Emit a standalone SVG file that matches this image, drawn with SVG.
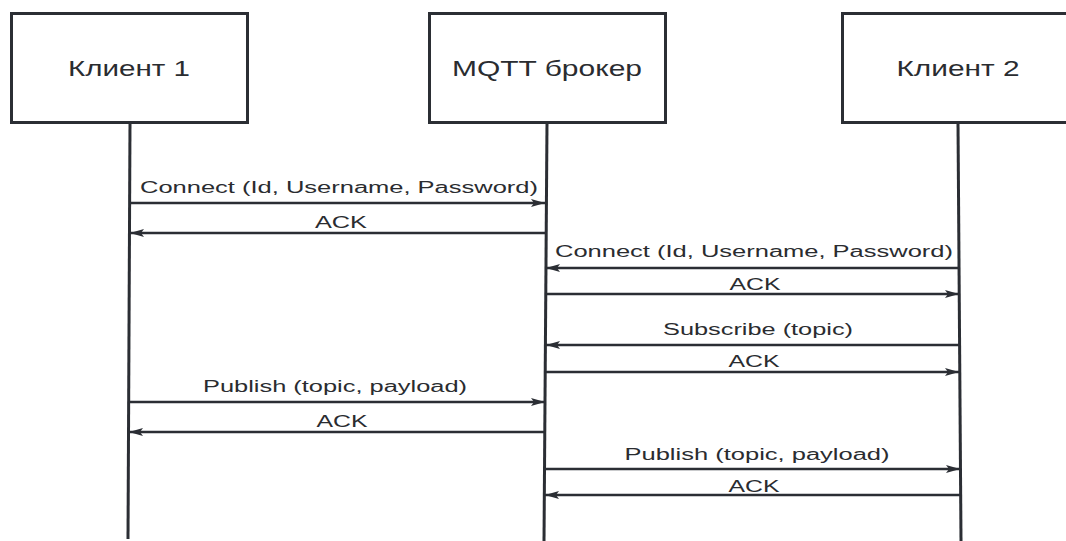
<svg xmlns="http://www.w3.org/2000/svg" width="1066" height="541" viewBox="0 0 1066 541">
  <style>
    .box { fill: #ffffff; stroke: #2b2e34; stroke-width: 3; }
    .life { stroke: #2b2e34; stroke-width: 3; fill: none; }
    .msg { stroke: #2b2e34; stroke-width: 2.5; fill: none; marker-end: url(#head); }
    .title { font-family: "Liberation Sans", Arial, sans-serif; font-size: 22px; fill: #2a2c30; text-anchor: middle; }
    .lbl { font-family: "Liberation Sans", Arial, sans-serif; font-size: 16px; fill: #2a2c30; text-anchor: middle; }
  </style>
  <defs>
    <marker id="head" markerUnits="userSpaceOnUse" viewBox="0 0 14 8" refX="14" refY="4" markerWidth="14" markerHeight="8" orient="auto">
      <path d="M0,0 L14,4 L0,8 L3,4 Z" fill="#2b2e34"/>
    </marker>
  </defs>
  <rect width="1066" height="541" fill="#ffffff"/>

  <!-- participants -->
  <g id="client1">
    <rect class="box" x="11.5" y="13.5" width="236" height="109"/>
    <text class="title" x="129" y="76" textLength="122" lengthAdjust="spacingAndGlyphs">Клиент 1</text>
  </g>
  <g id="broker">
    <rect class="box" x="429.5" y="13.5" width="236" height="109"/>
    <text class="title" x="547" y="76" textLength="190" lengthAdjust="spacingAndGlyphs">MQTT брокер</text>
  </g>
  <g id="client2">
    <rect class="box" x="842.5" y="13.5" width="260" height="109"/>
    <text class="title" x="958" y="76" textLength="123" lengthAdjust="spacingAndGlyphs">Клиент 2</text>
  </g>

  <!-- lifelines -->
  <g id="lifelines">
    <line class="life" x1="130" y1="123" x2="128" y2="539"/>
    <line class="life" x1="547" y1="123" x2="544" y2="541"/>
    <line class="life" x1="958" y1="123" x2="961" y2="541"/>
  </g>

  <!-- messages -->
  <g id="connectors">
    <line class="msg" x1="130" y1="203" x2="545" y2="203"/>
    <line class="msg" x1="545" y1="233" x2="130" y2="233"/>
    <line class="msg" x1="959" y1="268" x2="546" y2="268"/>
    <line class="msg" x1="546" y1="294" x2="959" y2="294"/>
    <line class="msg" x1="959" y1="345" x2="546" y2="345"/>
    <line class="msg" x1="546" y1="372" x2="959" y2="372"/>
    <line class="msg" x1="129" y1="402" x2="545" y2="402"/>
    <line class="msg" x1="545" y1="432" x2="129" y2="432"/>
    <line class="msg" x1="545" y1="469" x2="960" y2="469"/>
    <line class="msg" x1="960" y1="495" x2="545" y2="495"/>
  </g>

  <g id="labels">
    <text class="lbl" x="339" y="193" textLength="398" lengthAdjust="spacingAndGlyphs">Connect (Id, Username, Password)</text>
    <text class="lbl" x="341" y="228" textLength="52" lengthAdjust="spacingAndGlyphs">ACK</text>
    <text class="lbl" x="754" y="257" textLength="398" lengthAdjust="spacingAndGlyphs">Connect (Id, Username, Password)</text>
    <text class="lbl" x="755" y="290" textLength="51" lengthAdjust="spacingAndGlyphs">ACK</text>
    <text class="lbl" x="758" y="335" textLength="190" lengthAdjust="spacingAndGlyphs">Subscribe (topic)</text>
    <text class="lbl" x="754" y="367" textLength="51" lengthAdjust="spacingAndGlyphs">ACK</text>
    <text class="lbl" x="335" y="392" textLength="264" lengthAdjust="spacingAndGlyphs">Publish (topic, payload)</text>
    <text class="lbl" x="342" y="427" textLength="51" lengthAdjust="spacingAndGlyphs">ACK</text>
    <text class="lbl" x="757" y="460" textLength="265" lengthAdjust="spacingAndGlyphs">Publish (topic, payload)</text>
    <text class="lbl" x="754" y="492" textLength="51" lengthAdjust="spacingAndGlyphs">ACK</text>
  </g>
</svg>
